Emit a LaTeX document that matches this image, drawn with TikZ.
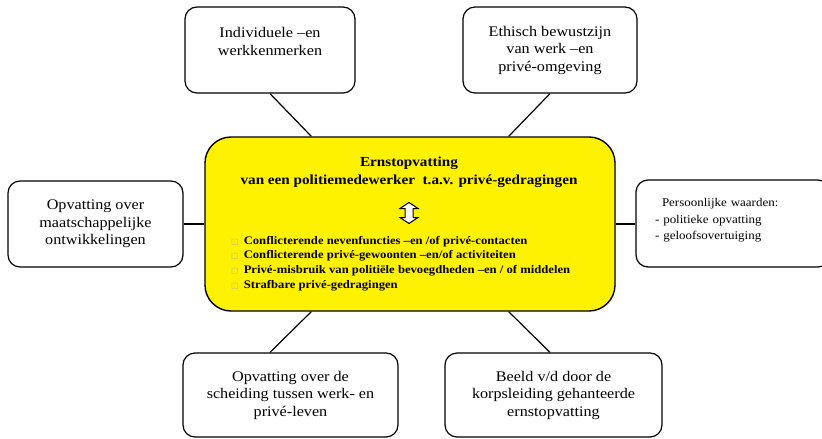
\documentclass[tikz,border=0pt]{standalone}
\usepackage{fontspec}
\setmainfont{Liberation Serif}[FakeStretch=1.1]
\newfontfamily\symfont{DejaVu Sans}
\usetikzlibrary{calc}

\tikzstyle{factor}=[draw,rectangle,rounded corners=12pt,line width=1.2pt,align=center,inner sep=0pt,font=\fontsize{14.7}{17.5}\selectfont]
\tikzstyle{core}=[draw,fill=yellow,rectangle,rounded corners=26pt,line width=1.4pt,minimum width=410pt,minimum height=174pt]
\tikzstyle{link}=[line width=1.2pt]

\newcommand{\itembox}{{\symfont\color{black!30}\fontsize{8}{8}\selectfont □}\hspace{5pt}}

\begin{document}
\begin{tikzpicture}[x=1pt,y=-1pt]
	\useasboundingbox (0,0) rectangle (822,439);
	\clip (0,0) rectangle (822,439);
	% centre
	\node (C) [core] at (410,224) {};
	\node (T) [font=\bfseries\fontsize{13.8}{18}\selectfont,align=center] at (409,172) {Ernstopvatting\\van een politiemedewerker\ \ t.a.v. privé-gedragingen};
	\coordinate (A) at (409,213);
	\draw[fill=white,line width=1pt,line join=miter] ($(A)+(0,-10.5)$) -- ++(9,6) -- ++(-5,0) -- ++(0,9) -- ++(5,0) -- ($(A)+(0,10.5)$) -- ++(-9,-6) -- ++(5,0) -- ++(0,-9) -- ++(-5,0) -- cycle;
	\node (L) [anchor=north west,align=left,inner sep=0pt,font=\bfseries\fontsize{11.5}{14.6}\selectfont] at (231,236) {\itembox Conflicterende nevenfuncties –en /of privé-contacten\\
		\itembox Conflicterende privé-gewoonten –en/of activiteiten\\
		\itembox Privé-misbruik van politiële bevoegdheden –en / of middelen\\
		\itembox Strafbare privé-gedragingen};
	% factors
	\node (F1) [factor,minimum width=170pt,minimum height=86pt] at (270,50) {Individuele –en\\werkkenmerken\\ \mbox{}};
	\node (F2) [factor,minimum width=174pt,minimum height=86pt] at (550,50) {Ethisch bewustzijn\\van werk –en\\privé-omgeving};
	\node (F3) [factor,minimum width=175pt,minimum height=86pt] at (95.5,224) {Opvatting over\\maatschappelijke\\ontwikkelingen};
	\node (F4) [factor,minimum height=87pt,align=left,text width=156pt,inner xsep=19pt,font=\fontsize{11.8}{16.5}\selectfont] at (733,223.5) {\hspace{7pt}Persoonlijke waarden:\\- politieke opvatting\\- geloofsovertuiging\\[-8pt]\mbox{}};
	\node (F5) [factor,minimum width=215pt,minimum height=84pt] at (290.5,395) {Opvatting over de\\scheiding tussen werk- en\\privé-leven};
	\node (F6) [factor,minimum width=217pt,minimum height=84pt] at (553.5,395) {Beeld v/d door de\\korpsleiding gehanteerde\\ernstopvatting};
	% links
	\draw[link] (F1.south) -- ($(C.north west)!0.26!(C.north east)$);
	\draw[link] (F2.south) -- ($(C.north west)!0.74!(C.north east)$);
	\draw[link] (F3.east) -- (C.west);
	\draw[link] (C.east) -- (C.east -| F4.west);
	\draw[link] ($(F5.north west)!0.405!(F5.north east)$) -- ($(C.south west)!0.26!(C.south east)$);
	\draw[link] ($(F6.north west)!0.484!(F6.north east)$) -- ($(C.south west)!0.74!(C.south east)$);
\end{tikzpicture}
\end{document}
